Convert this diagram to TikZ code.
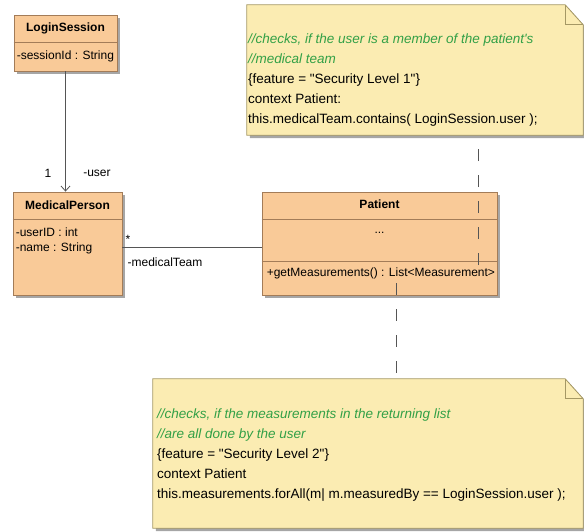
\documentclass[tikz,border=0pt]{standalone}
\usepackage{fontspec}
\setmainfont{Liberation Sans}[Ligatures=TeXOff]
\usepackage{tikz}
\usepackage{xcolor}
\usetikzlibrary{shadows,arrows.meta}
\definecolor{classfill}{RGB}{249,202,152}
\definecolor{classline}{RGB}{163,124,88}
\definecolor{notefill}{RGB}{251,236,178}
\definecolor{noteline}{RGB}{165,152,100}
\definecolor{commentgreen}{RGB}{50,160,70}
\definecolor{wire}{RGB}{85,85,85}
\tikzset{
    class-box/.style = {draw=classline, fill=classfill, line width=0.8pt, rectangle, inner sep=0pt, drop shadow={shadow xshift=3pt, shadow yshift=-3pt, fill=black!35, opacity=1}},
    class-rule/.style = {draw=classline, line width=0.8pt},
    class-title/.style = {font=\fontsize{12}{14}\selectfont\bfseries, inner sep=0pt},
    class-attr/.style = {font=\fontsize{12}{14}\selectfont, inner sep=0pt, anchor=west},
    note-frame/.style = {rectangle, inner sep=0pt},
    note-box/.style = {draw=noteline, fill=notefill, line width=0.8pt, drop shadow={shadow xshift=3pt, shadow yshift=-3pt, fill=black!35, opacity=1}},
    note-rule/.style = {draw=noteline, line width=0.8pt},
    note-text/.style = {font=\fontsize{13.5}{20}\selectfont, align=left, inner sep=0pt, anchor=north west},
    wire-line/.style = {draw=wire, line width=0.8pt},
    anchor-line/.style = {draw=wire, line width=0.8pt, dash pattern=on 12pt off 14pt},
    end-label/.style = {font=\fontsize{12}{14}\selectfont, inner sep=0pt},
}
\begin{document}
\begin{tikzpicture}[x=1pt,y=-1pt]
\useasboundingbox (0,0) rectangle (584,531);

\node [note-frame, minimum width=336pt, minimum height=130pt] (note1) at (415,70) {};
\path [note-box] (note1.north west) -- ([xshift=-18pt]note1.north east) -- ([yshift=-20pt]note1.north east) -- (note1.south east) -- (note1.south west) -- cycle;
\draw [note-rule] ([xshift=-18pt]note1.north east) -- ([xshift=-18pt,yshift=-20pt]note1.north east) -- ([yshift=-20pt]note1.north east);
\node [note-text] (note1-text) at ([xshift=1pt,yshift=-29pt]note1.north west) {%
    \textcolor{commentgreen}{\itshape //checks, if the user is a member of the patient's}\\
    \textcolor{commentgreen}{\itshape //medical team}\\
    \{feature = "Security Level 1"\}\\
    context Patient:\\
    this.medicalTeam.contains( LoginSession.user );};

\node [note-frame, minimum width=430pt, minimum height=149pt] (note2) at (368,453.5) {};
\path [note-box] (note2.north west) -- ([xshift=-18pt]note2.north east) -- ([yshift=-20pt]note2.north east) -- (note2.south east) -- (note2.south west) -- cycle;
\draw [note-rule] ([xshift=-18pt]note2.north east) -- ([xshift=-18pt,yshift=-20pt]note2.north east) -- ([yshift=-20pt]note2.north east);
\node [note-text] (note2-text) at ([xshift=4pt,yshift=-30pt]note2.north west) {%
    \textcolor{commentgreen}{\itshape //checks, if the measurements in the returning list}\\
    \textcolor{commentgreen}{\itshape //are all done by the user}\\
    \{feature = "Security Level 2"\}\\
    context Patient\\
    this.measurements.forAll(m| m.measuredBy == LoginSession.user );};

\node [class-box, minimum width=103pt, minimum height=56pt] (login) at (65.5,43) {};
\draw [class-rule] ([yshift=-28pt]login.north west) -- ([yshift=-28pt]login.north east);
\node [class-title] (login-title) at ([yshift=-14pt]login.north) {LoginSession};
\node [class-attr] (login-id) at ([xshift=3pt,yshift=-42pt]login.north west) {-sessionId : String};

\node [class-box, minimum width=109pt, minimum height=103pt] (medical) at (67.5,243.5) {};
\draw [class-rule] ([yshift=-28pt]medical.north west) -- ([yshift=-28pt]medical.north east);
\node [class-title] (medical-title) at ([yshift=-14pt]medical.north) {MedicalPerson};
\node [class-attr] (medical-id) at ([xshift=3pt,yshift=-41pt]medical.north west) {-userID : int};
\node [class-attr] (medical-name) at ([xshift=3pt,yshift=-57pt]medical.north west) {-name : String};

\node [class-box, minimum width=235pt, minimum height=103pt] (patient) at (379.5,243.5) {};
\draw [class-rule] ([yshift=-28pt]patient.north west) -- ([yshift=-28pt]patient.north east);
\draw [class-rule] ([yshift=-70pt]patient.north west) -- ([yshift=-70pt]patient.north east);
\node [class-title] (patient-title) at ([yshift=-13pt]patient.north) {Patient};
\node [end-label] (patient-dots) at ([yshift=-41pt]patient.north) {...};
\node [class-attr] (patient-op) at ([xshift=5pt,yshift=-82pt]patient.north west) {+getMeasurements() : List<Measurement>};

\draw [wire-line, -{Straight Barb[length=5pt,width=9pt]}] (login.south) -- (login.south |- medical.north);
\node [end-label] (user-mult) at (48,173) {1};
\node [end-label] (user-role) at (97,173) {-user};

\coordinate (team-end) at ([yshift=-56pt]medical.north east);
\draw [wire-line] (team-end) -- (team-end -| patient.west);
\node [end-label] (team-mult) at (128,239) {*};
\node [end-label] (team-role) at (165,262) {-medicalTeam};

\coordinate (note1-end) at (478,265);
\draw [anchor-line] (note1-end) -- (note1.south -| note1-end);
\coordinate (note2-start) at (396,283);
\draw [anchor-line] (note2-start) -- (note2-start |- note2.north);
\end{tikzpicture}
\end{document}
